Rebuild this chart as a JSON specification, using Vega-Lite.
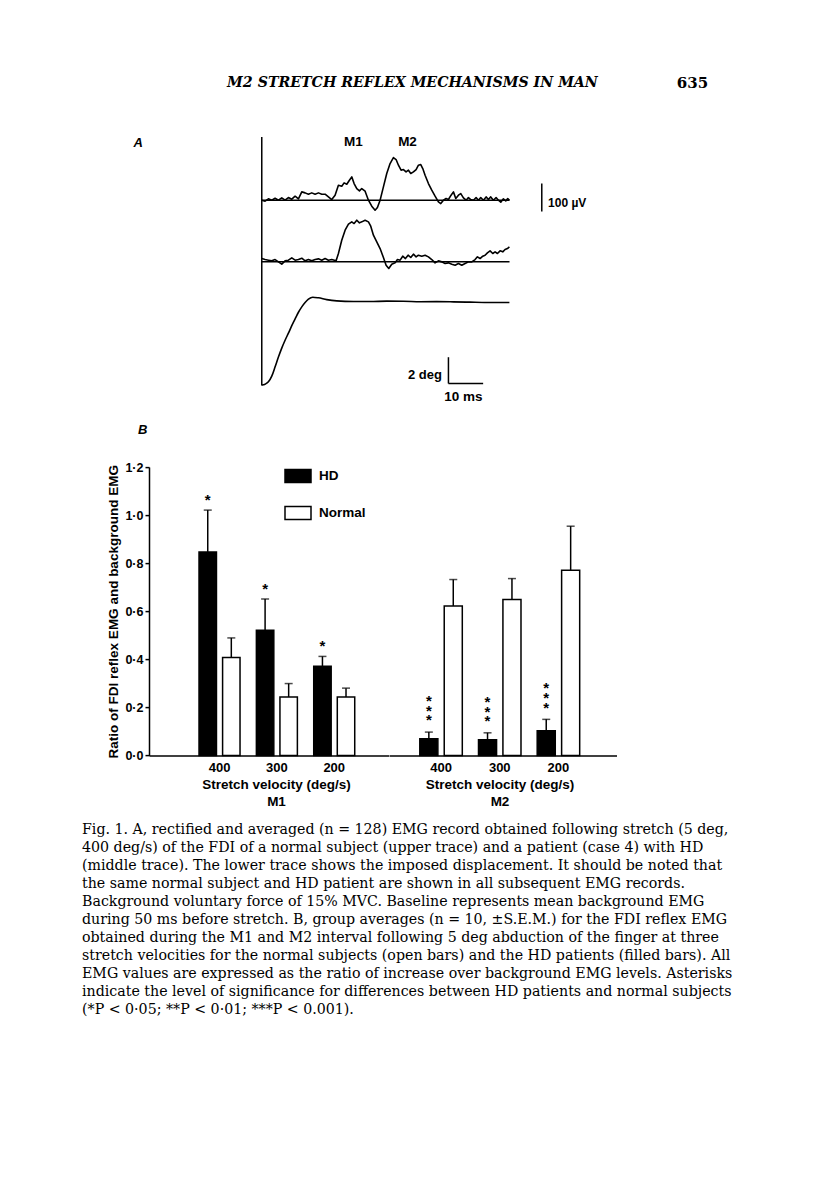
{
  "$schema": "https://vega.github.io/schema/vega-lite/v6.json",
  "autosize": {"type": "pad"},
  "padding": {"left": 82, "top": 73, "right": 10, "bottom": 10},
  "background": "white",
  "config": {
    "view": {"stroke": null},
    "font": "Liberation Sans",
    "axis": {"domainColor": "black", "domainWidth": 1.5, "tickColor": "black", "tickWidth": 1.5, "labelColor": "black", "labelFontWeight": "bold", "titleColor": "black", "titleFontWeight": "bold", "grid": false},
    "text": {"color": "black"}
  },
  "datasets": {
    "header": [
      {"part": "running head", "text": "M2 STRETCH REFLEX MECHANISMS IN MAN"},
      {"part": "page", "text": "635"}
    ],
    "bars": [
      {"phase": "M1", "velocity": "400", "group": "HD", "value": 0.847, "errTop": 1.021, "sig": "*"},
      {"phase": "M1", "velocity": "400", "group": "Normal", "value": 0.407, "errTop": 0.489},
      {"phase": "M1", "velocity": "300", "group": "HD", "value": 0.521, "errTop": 0.651, "sig": "*"},
      {"phase": "M1", "velocity": "300", "group": "Normal", "value": 0.243, "errTop": 0.299},
      {"phase": "M1", "velocity": "200", "group": "HD", "value": 0.371, "errTop": 0.412, "sig": "*"},
      {"phase": "M1", "velocity": "200", "group": "Normal", "value": 0.243, "errTop": 0.28},
      {"phase": "M2", "velocity": "400", "group": "HD", "value": 0.069, "errTop": 0.097, "sig": "*\n*\n*"},
      {"phase": "M2", "velocity": "400", "group": "Normal", "value": 0.622, "errTop": 0.732},
      {"phase": "M2", "velocity": "300", "group": "HD", "value": 0.065, "errTop": 0.094, "sig": "*\n*\n*"},
      {"phase": "M2", "velocity": "300", "group": "Normal", "value": 0.649, "errTop": 0.736},
      {"phase": "M2", "velocity": "200", "group": "HD", "value": 0.103, "errTop": 0.15, "sig": "*\n*\n*"},
      {"phase": "M2", "velocity": "200", "group": "Normal", "value": 0.771, "errTop": 0.954}
    ],
    "rules": [
      {"part": "axis", "t1": 0, "t2": 0, "v1": -442, "v2": 446},
      {"part": "baseline normal", "t1": 0, "t2": 71.4, "v1": 220.2, "v2": 220.2},
      {"part": "baseline HD", "t1": 0, "t2": 71.4, "v1": 0, "v2": 0},
      {"part": "2 deg", "t1": 53.8, "t2": 53.8, "v1": -340.6, "v2": -434.6},
      {"part": "10 ms", "t1": 53.8, "t2": 63.8, "v1": -434.6, "v2": -434.6},
      {"part": "100 uV", "t1": 80.7, "t2": 80.7, "v1": 180, "v2": 280}
    ],
    "labels": [
      {"label": "A", "t": -35.6, "v": 424, "style": "panel"},
      {"label": "M1", "t": 26.4, "v": 428.6, "style": "center"},
      {"label": "M2", "t": 42.0, "v": 428.6, "style": "center"},
      {"label": "2 deg", "t": 51.9, "v": -404.8, "style": "right"},
      {"label": "10 ms", "t": 58.1, "v": -482, "style": "center"},
      {"label": "100 µV", "t": 82.5, "v": 212, "style": "left"}
    ],
    "traces": [
      {"trace": "normal", "t": 0, "v": 220.2}, {"trace": "normal", "t": 0.96, "v": 216.7}, {"trace": "normal", "t": 1.92, "v": 225.1}, {"trace": "normal", "t": 2.88, "v": 220.2}, {"trace": "normal", "t": 3.84, "v": 227.4}, {"trace": "normal", "t": 4.8, "v": 220.2}, {"trace": "normal", "t": 5.76, "v": 228.6}, {"trace": "normal", "t": 6.72, "v": 220.2}, {"trace": "normal", "t": 7.68, "v": 229.8}, {"trace": "normal", "t": 8.65, "v": 223.8}, {"trace": "normal", "t": 9.61, "v": 234.5}, {"trace": "normal", "t": 10.57, "v": 225.0}, {"trace": "normal", "t": 11.53, "v": 250.0}, {"trace": "normal", "t": 12.49, "v": 246.4}, {"trace": "normal", "t": 13.45, "v": 241.7}, {"trace": "normal", "t": 14.41, "v": 246.4}, {"trace": "normal", "t": 15.37, "v": 241.7}, {"trace": "normal", "t": 16.33, "v": 246.4}, {"trace": "normal", "t": 17.29, "v": 241.7}, {"trace": "normal", "t": 18.25, "v": 241.7}, {"trace": "normal", "t": 19.21, "v": 232.1}, {"trace": "normal", "t": 20.17, "v": 222.6}, {"trace": "normal", "t": 21.13, "v": 238.1}, {"trace": "normal", "t": 22.09, "v": 273.8}, {"trace": "normal", "t": 23.05, "v": 270.2}, {"trace": "normal", "t": 23.73, "v": 282.1}, {"trace": "normal", "t": 24.5, "v": 277.4}, {"trace": "normal", "t": 25.26, "v": 291.7}, {"trace": "normal", "t": 25.94, "v": 303.6}, {"trace": "normal", "t": 26.61, "v": 279.8}, {"trace": "normal", "t": 27.38, "v": 261.9}, {"trace": "normal", "t": 28.15, "v": 253.6}, {"trace": "normal", "t": 28.82, "v": 261.9}, {"trace": "normal", "t": 29.78, "v": 252.4}, {"trace": "normal", "t": 30.74, "v": 220.2}, {"trace": "normal", "t": 31.7, "v": 198.8}, {"trace": "normal", "t": 32.66, "v": 184.5}, {"trace": "normal", "t": 33.33, "v": 194.0}, {"trace": "normal", "t": 34.1, "v": 220.2}, {"trace": "normal", "t": 35.06, "v": 267.9}, {"trace": "normal", "t": 36.02, "v": 315.5}, {"trace": "normal", "t": 36.98, "v": 351.2}, {"trace": "normal", "t": 37.94, "v": 372.6}, {"trace": "normal", "t": 38.71, "v": 365.5}, {"trace": "normal", "t": 39.39, "v": 345.2}, {"trace": "normal", "t": 40.15, "v": 327.4}, {"trace": "normal", "t": 40.83, "v": 329.8}, {"trace": "normal", "t": 41.59, "v": 321.4}, {"trace": "normal", "t": 42.27, "v": 327.4}, {"trace": "normal", "t": 42.94, "v": 315.5}, {"trace": "normal", "t": 43.71, "v": 321.4}, {"trace": "normal", "t": 44.48, "v": 329.8}, {"trace": "normal", "t": 45.15, "v": 345.2}, {"trace": "normal", "t": 45.82, "v": 347.6}, {"trace": "normal", "t": 46.4, "v": 333.3}, {"trace": "normal", "t": 47.07, "v": 309.5}, {"trace": "normal", "t": 48.03, "v": 279.8}, {"trace": "normal", "t": 48.99, "v": 256.0}, {"trace": "normal", "t": 49.95, "v": 234.5}, {"trace": "normal", "t": 50.91, "v": 214.3}, {"trace": "normal", "t": 51.59, "v": 208.3}, {"trace": "normal", "t": 52.35, "v": 220.2}, {"trace": "normal", "t": 53.12, "v": 226.2}, {"trace": "normal", "t": 53.79, "v": 222.6}, {"trace": "normal", "t": 54.56, "v": 238.1}, {"trace": "normal", "t": 55.24, "v": 250.0}, {"trace": "normal", "t": 55.91, "v": 226.2}, {"trace": "normal", "t": 56.68, "v": 238.1}, {"trace": "normal", "t": 57.35, "v": 244.0}, {"trace": "normal", "t": 58.12, "v": 228.6}, {"trace": "normal", "t": 58.89, "v": 220.2}, {"trace": "normal", "t": 59.56, "v": 229.8}, {"trace": "normal", "t": 60.23, "v": 222.6}, {"trace": "normal", "t": 61.0, "v": 220.2}, {"trace": "normal", "t": 61.77, "v": 229.8}, {"trace": "normal", "t": 62.44, "v": 220.2}, {"trace": "normal", "t": 63.11, "v": 229.8}, {"trace": "normal", "t": 63.88, "v": 220.2}, {"trace": "normal", "t": 64.65, "v": 232.1}, {"trace": "normal", "t": 65.32, "v": 222.6}, {"trace": "normal", "t": 65.99, "v": 232.1}, {"trace": "normal", "t": 66.76, "v": 220.2}, {"trace": "normal", "t": 67.53, "v": 229.8}, {"trace": "normal", "t": 68.2, "v": 220.2}, {"trace": "normal", "t": 68.88, "v": 213.1}, {"trace": "normal", "t": 69.64, "v": 225.0}, {"trace": "normal", "t": 70.32, "v": 217.9}, {"trace": "normal", "t": 70.89, "v": 226.2}, {"trace": "normal", "t": 71.37, "v": 220.2},
      {"trace": "HD", "t": 0, "v": 11.9}, {"trace": "HD", "t": 0.96, "v": 8.3}, {"trace": "HD", "t": 1.92, "v": 6.0}, {"trace": "HD", "t": 2.88, "v": 3.6}, {"trace": "HD", "t": 3.84, "v": 8.3}, {"trace": "HD", "t": 4.8, "v": 0}, {"trace": "HD", "t": 5.76, "v": -8.3}, {"trace": "HD", "t": 6.72, "v": 3.6}, {"trace": "HD", "t": 7.68, "v": 6.0}, {"trace": "HD", "t": 8.65, "v": 14.3}, {"trace": "HD", "t": 9.61, "v": 6.0}, {"trace": "HD", "t": 10.57, "v": 8.3}, {"trace": "HD", "t": 11.53, "v": 13.1}, {"trace": "HD", "t": 12.49, "v": 3.6}, {"trace": "HD", "t": 13.45, "v": 8.3}, {"trace": "HD", "t": 14.41, "v": 3.6}, {"trace": "HD", "t": 15.37, "v": 8.3}, {"trace": "HD", "t": 16.33, "v": 10.7}, {"trace": "HD", "t": 17.29, "v": 6.0}, {"trace": "HD", "t": 18.25, "v": 11.9}, {"trace": "HD", "t": 19.21, "v": 6.0}, {"trace": "HD", "t": 20.17, "v": 8.3}, {"trace": "HD", "t": 21.42, "v": 3.6}, {"trace": "HD", "t": 22.09, "v": 29.8}, {"trace": "HD", "t": 23.05, "v": 77.4}, {"trace": "HD", "t": 24.02, "v": 113.1}, {"trace": "HD", "t": 24.98, "v": 134.5}, {"trace": "HD", "t": 25.94, "v": 142.9}, {"trace": "HD", "t": 26.61, "v": 136.9}, {"trace": "HD", "t": 27.38, "v": 148.8}, {"trace": "HD", "t": 28.15, "v": 139.3}, {"trace": "HD", "t": 28.82, "v": 142.9}, {"trace": "HD", "t": 29.78, "v": 148.8}, {"trace": "HD", "t": 30.74, "v": 142.9}, {"trace": "HD", "t": 31.41, "v": 127.4}, {"trace": "HD", "t": 32.18, "v": 95.2}, {"trace": "HD", "t": 33.14, "v": 71.4}, {"trace": "HD", "t": 34.1, "v": 47.6}, {"trace": "HD", "t": 35.06, "v": 15.5}, {"trace": "HD", "t": 35.83, "v": -11.9}, {"trace": "HD", "t": 36.6, "v": -23.8}, {"trace": "HD", "t": 37.46, "v": -8.3}, {"trace": "HD", "t": 38.42, "v": -3.6}, {"trace": "HD", "t": 39.1, "v": 8.3}, {"trace": "HD", "t": 39.87, "v": 6.0}, {"trace": "HD", "t": 40.63, "v": 20.2}, {"trace": "HD", "t": 41.4, "v": 11.9}, {"trace": "HD", "t": 42.17, "v": 23.8}, {"trace": "HD", "t": 42.94, "v": 15.5}, {"trace": "HD", "t": 43.71, "v": 27.4}, {"trace": "HD", "t": 44.48, "v": 17.9}, {"trace": "HD", "t": 45.15, "v": 23.8}, {"trace": "HD", "t": 46.11, "v": 20.2}, {"trace": "HD", "t": 47.07, "v": 23.8}, {"trace": "HD", "t": 48.03, "v": 17.9}, {"trace": "HD", "t": 48.99, "v": 8.3}, {"trace": "HD", "t": 49.95, "v": -3.6}, {"trace": "HD", "t": 50.91, "v": 3.6}, {"trace": "HD", "t": 51.87, "v": 0}, {"trace": "HD", "t": 52.83, "v": -6.0}, {"trace": "HD", "t": 53.79, "v": -3.6}, {"trace": "HD", "t": 54.76, "v": -8.3}, {"trace": "HD", "t": 55.72, "v": -11.9}, {"trace": "HD", "t": 56.68, "v": -6.0}, {"trace": "HD", "t": 57.64, "v": -11.9}, {"trace": "HD", "t": 58.6, "v": -6.0}, {"trace": "HD", "t": 59.56, "v": 0}, {"trace": "HD", "t": 60.52, "v": 0}, {"trace": "HD", "t": 61.48, "v": 8.3}, {"trace": "HD", "t": 62.15, "v": 17.9}, {"trace": "HD", "t": 62.92, "v": 11.9}, {"trace": "HD", "t": 63.69, "v": 20.2}, {"trace": "HD", "t": 64.36, "v": 23.8}, {"trace": "HD", "t": 65.03, "v": 32.1}, {"trace": "HD", "t": 65.8, "v": 39.3}, {"trace": "HD", "t": 66.57, "v": 29.8}, {"trace": "HD", "t": 67.24, "v": 35.7}, {"trace": "HD", "t": 67.92, "v": 29.8}, {"trace": "HD", "t": 68.68, "v": 39.3}, {"trace": "HD", "t": 69.45, "v": 35.7}, {"trace": "HD", "t": 70.12, "v": 44.0}, {"trace": "HD", "t": 70.8, "v": 47.6}, {"trace": "HD", "t": 71.37, "v": 53.6}
    ],
    "displacement": [
      {"t": 0, "v": -440}, {"t": 0.96, "v": -437}, {"t": 1.92, "v": -428.6}, {"t": 2.88, "v": -408.3}, {"t": 3.84, "v": -375}, {"t": 4.8, "v": -340}, {"t": 5.76, "v": -308}, {"t": 6.72, "v": -280}, {"t": 7.68, "v": -254.8}, {"t": 8.65, "v": -228}, {"t": 9.61, "v": -204}, {"t": 10.57, "v": -180}, {"t": 11.53, "v": -160.7}, {"t": 12.49, "v": -145.2}, {"t": 13.45, "v": -133.3}, {"t": 14.7, "v": -126.2}, {"t": 16.33, "v": -128.5}, {"t": 18.73, "v": -135}, {"t": 21.61, "v": -139.5}, {"t": 26.42, "v": -141.7}, {"t": 31.22, "v": -141.7}, {"t": 36.02, "v": -140.3}, {"t": 40.83, "v": -140.5}, {"t": 45.63, "v": -142.4}, {"t": 50.43, "v": -142.2}, {"t": 55.24, "v": -142.9}, {"t": 60.04, "v": -144.0}, {"t": 64.84, "v": -145.0}, {"t": 71.37, "v": -145.2}
    ]
  },
  "title": {
    "text": [
      "Fig. 1. A, rectified and averaged (n = 128) EMG record obtained following stretch (5 deg,",
      "400 deg/s) of the FDI of a normal subject (upper trace) and a patient (case 4) with HD",
      "(middle trace). The lower trace shows the imposed displacement. It should be noted that",
      "the same normal subject and HD patient are shown in all subsequent EMG records.",
      "Background voluntary force of 15% MVC. Baseline represents mean background EMG",
      "during 50 ms before stretch. B, group averages (n = 10, ±S.E.M.) for the FDI reflex EMG",
      "obtained during the M1 and M2 interval following 5 deg abduction of the finger at three",
      "stretch velocities for the normal subjects (open bars) and the HD patients (filled bars). All",
      "EMG values are expressed as the ratio of increase over background EMG levels. Asterisks",
      "indicate the level of significance for differences between HD patients and normal subjects",
      "(*P < 0·05; **P < 0·01; ***P < 0.001)."
    ],
    "orient": "bottom",
    "anchor": "start",
    "frame": "group",
    "dx": -67,
    "offset": 15,
    "font": "DejaVu Serif",
    "fontSize": 14.2,
    "fontWeight": "normal",
    "color": "black",
    "lineHeight": 18
  },
  "vconcat": [
    {
      "width": 560,
      "height": 20,
      "data": {"name": "header"},
      "encoding": {
        "x": {"field": "part", "type": "nominal", "scale": {"type": "point", "domain": ["running head", "page"], "padding": 0.5, "align": 0.941}, "axis": null},
        "text": {"field": "text"}
      },
      "layer": [
        {"transform": [{"filter": "datum.part === 'running head'"}], "mark": {"type": "text", "font": "DejaVu Serif", "fontSize": 14.2, "fontStyle": "italic", "fontWeight": "bold", "color": "black"}},
        {"transform": [{"filter": "datum.part === 'page'"}], "mark": {"type": "text", "font": "DejaVu Serif", "fontSize": 15, "fontWeight": "bold", "color": "black"}}
      ]
    },
    {
      "vconcat": [
        {
          "width": 442.4,
          "height": 248.6,
          "layer": [
            {
              "data": {"name": "traces"},
              "mark": {"type": "line", "color": "black", "strokeWidth": 1.6, "strokeJoin": "round"},
              "encoding": {
                "x": {"field": "t", "type": "quantitative", "scale": {"domain": [-32.5, 95], "nice": false, "zero": false}, "axis": null},
                "y": {"field": "v", "type": "quantitative", "scale": {"domain": [-442, 446], "nice": false, "zero": false}, "axis": null},
                "detail": {"field": "trace", "type": "nominal"}
              }
            },
            {
              "data": {"name": "displacement"},
              "mark": {"type": "line", "color": "black", "strokeWidth": 1.6, "interpolate": "monotone"},
              "encoding": {
                "x": {"field": "t", "type": "quantitative", "scale": {"domain": [-32.5, 95], "nice": false, "zero": false}, "axis": null},
                "y": {"field": "v", "type": "quantitative", "scale": {"domain": [-442, 446], "nice": false, "zero": false}, "axis": null}
              }
            },
            {
              "data": {"name": "rules"},
              "mark": {"type": "rule", "color": "black", "strokeWidth": 1.5},
              "encoding": {
                "x": {"field": "t1", "type": "quantitative", "scale": {"domain": [-32.5, 95], "nice": false, "zero": false}, "axis": null},
                "x2": {"field": "t2"},
                "y": {"field": "v1", "type": "quantitative", "scale": {"domain": [-442, 446], "nice": false, "zero": false}, "axis": null},
                "y2": {"field": "v2"}
              }
            },
            {
              "data": {"name": "labels"},
              "encoding": {
                "x": {"field": "t", "type": "quantitative", "scale": {"domain": [-32.5, 95], "nice": false, "zero": false}, "axis": null},
                "y": {"field": "v", "type": "quantitative", "scale": {"domain": [-442, 446], "nice": false, "zero": false}, "axis": null},
                "text": {"field": "label"}
              },
              "layer": [
                {"transform": [{"filter": "datum.style === 'center'"}], "mark": {"type": "text", "align": "center", "fontSize": 13.5, "fontWeight": "bold"}},
                {"transform": [{"filter": "datum.style === 'right'"}], "mark": {"type": "text", "align": "right", "fontSize": 13, "fontWeight": "bold"}},
                {"transform": [{"filter": "datum.style === 'left'"}], "mark": {"type": "text", "align": "left", "fontSize": 12, "fontWeight": "bold"}},
                {"transform": [{"filter": "datum.style === 'panel'"}], "mark": {"type": "text", "align": "center", "fontSize": 13, "fontWeight": "bold", "fontStyle": "italic"}}
              ]
            }
          ]
        },
        {
          "hconcat": [
            {
              "width": 239.5,
              "height": 288.3,
              "title": {"text": "B", "anchor": "start", "frame": "group", "dx": -11, "offset": 24, "font": "Liberation Sans", "fontSize": 13, "fontStyle": "italic", "fontWeight": "bold", "color": "black"},
              "data": {"name": "bars"},
              "transform": [{"filter": "datum.phase === 'M1'"}],
              "encoding": {
                "x": {"field": "velocity", "type": "nominal", "sort": ["400", "300", "200"], "scale": {"paddingInner": 0.285, "paddingOuter": 0.7305, "align": 0.597},
                  "axis": {"labelAngle": 0, "ticks": false, "labelPadding": 6, "labelFontSize": 13, "title": ["Stretch velocity (deg/s)", "M1"], "titleFontSize": 13.5, "titleLineHeight": 17, "titlePadding": 3, "titleX": 127}},
                "xOffset": {"field": "group", "type": "nominal", "sort": ["HD", "Normal"], "scale": {"paddingInner": 0.26, "paddingOuter": 0}}
              },
              "layer": [
                {
                  "mark": {"type": "bar", "stroke": "black", "strokeWidth": 1.5},
                  "encoding": {
                    "y": {"field": "value", "type": "quantitative", "title": "Ratio of FDI reflex EMG and background EMG", "scale": {"domain": [0, 1.2], "nice": false},
                      "axis": {"values": [0, 0.2, 0.4, 0.6, 0.8, 1.0, 1.2], "labelExpr": "replace(format(datum.value, '.1f'), '.', '·')", "tickSize": 4, "labelPadding": 2, "labelFontSize": 12.5, "titleFontSize": 13.5, "titlePadding": 4}},
                    "fill": {"field": "group", "type": "nominal", "scale": {"domain": ["HD", "Normal"], "range": ["black", "white"]},
                      "legend": {"orient": "none", "legendX": 135, "legendY": -5, "title": null, "symbolType": "M-1,-0.5h2v1h-2z", "symbolSize": 676, "symbolStrokeColor": "black", "symbolStrokeWidth": 1.5, "symbolOpacity": 1, "labelFontSize": 13.5, "labelFontWeight": "bold", "labelColor": "black", "labelOffset": 7, "rowPadding": 13, "padding": 0}}
                  }
                },
                {
                  "mark": {"type": "rule", "color": "black", "strokeWidth": 1.5},
                  "encoding": {"y": {"field": "value", "type": "quantitative", "title": "Ratio of FDI reflex EMG and background EMG"}, "y2": {"field": "errTop"}}
                },
                {
                  "mark": {"type": "tick", "orient": "horizontal", "size": 8, "thickness": 1.5, "color": "black"},
                  "encoding": {"y": {"field": "errTop", "type": "quantitative", "title": "Ratio of FDI reflex EMG and background EMG"}}
                },
                {
                  "transform": [{"filter": "isValid(datum.sig)"}],
                  "mark": {"type": "text", "baseline": "bottom", "dy": -2, "lineBreak": "\n", "lineHeight": 9.7, "fontSize": 15, "fontWeight": "bold"},
                  "encoding": {"y": {"field": "errTop", "type": "quantitative", "title": "Ratio of FDI reflex EMG and background EMG"}, "text": {"field": "sig"}}
                }
              ]
            },
            {
              "width": 227.5,
              "height": 288.3,
              "data": {"name": "bars"},
              "transform": [{"filter": "datum.phase === 'M2'"}],
              "encoding": {
                "x": {"field": "velocity", "type": "nominal", "sort": ["400", "300", "200"], "scale": {"paddingInner": 0.276, "paddingOuter": 0.576, "align": 0.4556},
                  "axis": {"labelAngle": 0, "ticks": false, "labelPadding": 6, "labelFontSize": 13, "title": ["Stretch velocity (deg/s)", "M2"], "titleFontSize": 13.5, "titleLineHeight": 17, "titlePadding": 3, "titleX": 110.5}},
                "xOffset": {"field": "group", "type": "nominal", "sort": ["HD", "Normal"], "scale": {"paddingInner": 0.26, "paddingOuter": 0}}
              },
              "layer": [
                {
                  "mark": {"type": "bar", "stroke": "black", "strokeWidth": 1.5},
                  "encoding": {
                    "y": {"field": "value", "type": "quantitative", "scale": {"domain": [0, 1.2], "nice": false}, "axis": null},
                    "fill": {"field": "group", "type": "nominal", "scale": {"domain": ["HD", "Normal"], "range": ["black", "white"]}, "legend": null}
                  }
                },
                {
                  "mark": {"type": "rule", "color": "black", "strokeWidth": 1.5},
                  "encoding": {"y": {"field": "value", "type": "quantitative", "axis": null}, "y2": {"field": "errTop"}}
                },
                {
                  "mark": {"type": "tick", "orient": "horizontal", "size": 8, "thickness": 1.5, "color": "black"},
                  "encoding": {"y": {"field": "errTop", "type": "quantitative", "axis": null}}
                },
                {
                  "transform": [{"filter": "isValid(datum.sig)"}],
                  "mark": {"type": "text", "baseline": "bottom", "dy": -23, "lineBreak": "\n", "lineHeight": 9.7, "fontSize": 15, "fontWeight": "bold"},
                  "encoding": {"y": {"field": "errTop", "type": "quantitative", "axis": null}, "text": {"field": "sig"}}
                }
              ]
            }
          ],
          "spacing": 0,
          "bounds": "flush",
          "resolve": {"scale": {"x": "independent", "y": "independent", "xOffset": "independent", "fill": "independent"}, "legend": {"fill": "independent"}, "axis": {"x": "independent", "y": "independent"}}
        }
      ],
      "spacing": 81.1,
      "bounds": "flush"
    }
  ],
  "spacing": 44,
  "bounds": "flush"
}
